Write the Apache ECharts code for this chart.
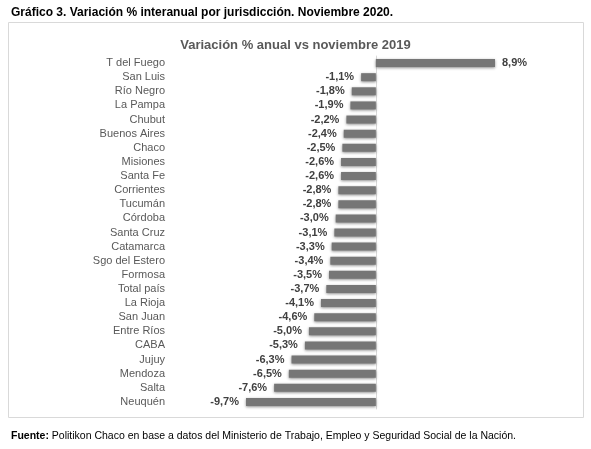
<!DOCTYPE html>
<html>
<head>
<meta charset="utf-8">
<script src="https://cdn.jsdelivr.net/npm/echarts@6/dist/echarts.min.js"></script>
<style>
  html, body { margin: 0; padding: 0; background: #fff; }
  #chart { width: 591px; height: 449px; }
</style>
</head>
<body>
<div id="chart"></div>
<script>
// jurisdicciones
var provincias = ['T del Fuego', 'San Luis', 'Río Negro', 'La Pampa', 'Chubut', 'Buenos Aires', 'Chaco', 'Misiones', 'Santa Fe', 'Corrientes', 'Tucumán', 'Córdoba', 'Santa Cruz', 'Catamarca', 'Sgo del Estero', 'Formosa', 'Total país', 'La Rioja', 'San Juan', 'Entre Ríos', 'CABA', 'Jujuy', 'Mendoza', 'Salta', 'Neuquén'];
// variación % anual
var variacion = [8.9, -1.1, -1.8, -1.9, -2.2, -2.4, -2.5, -2.6, -2.6, -2.8, -2.8, -3.0, -3.1, -3.3, -3.4, -3.5, -3.7, -4.1, -4.6, -5.0, -5.3, -6.3, -6.5, -7.6, -9.7];

// etiquetas de negativos a la izquierda de la barra
var datosBarras = variacion.map(function (v) {
  return { value: v, label: { position: v < 0 ? 'left' : 'right' } };
});

var chart = echarts.init(document.getElementById('chart'));
var option = {
  animation: false,
  textStyle: { fontFamily: 'Liberation Sans, Arial, sans-serif' },
  title: [
    {
      text: 'Gráfico 3. Variación % interanual por jurisdicción. Noviembre 2020.',
      left: 6, top: 2,
      textStyle: { fontSize: 12, fontWeight: 'bold', color: '#000' }
    },
    {
      text: 'Variación % anual vs noviembre 2019',
      left: 'center', top: 34,
      textStyle: { fontSize: 13, fontWeight: 'bold', color: '#595959' }
    },
    {
      text: '{b|Fuente:} Politikon Chaco en base a datos del Ministerio de Trabajo, Empleo y Seguridad Social de la Nación.',
      left: 6, top: 426,
      textStyle: {
        fontSize: 10.5, fontWeight: 'normal', color: '#000',
        rich: { b: { fontWeight: 'bold', fontSize: 10.5, color: '#000' } }
      }
    }
  ],
  // recuadro del gráfico
  graphic: [{
    type: 'rect',
    shape: { x: 8.5, y: 22.5, width: 575, height: 395 },
    style: { fill: 'none', stroke: '#d9d9d9', lineWidth: 1 },
    z: -1
  }],
  grid: { left: 246, right: 96, top: 56, bottom: 40 },
  xAxis: {
    type: 'value',
    min: -9.7,
    max: 8.9,
    show: false
  },
  yAxis: {
    type: 'category',
    data: provincias,
    inverse: true,
    axisLine: { show: true, onZero: true, lineStyle: { color: '#d9d9d9' } },
    axisTick: { show: false },
    axisLabel: {
      interval: 0,
      margin: 81,
      fontSize: 11,
      color: '#595959'
    }
  },
  series: [{
    type: 'bar',
    data: datosBarras,
    barWidth: 8,
    itemStyle: {
      color: '#767676',
      shadowColor: 'rgba(0,0,0,0.45)',
      shadowBlur: 3,
      shadowOffsetY: 1
    },
    label: {
      show: true,
      distance: 7,
      fontSize: 11,
      fontWeight: 'bold',
      color: '#404040',
      formatter: function (p) {
        return p.value.toFixed(1).replace('.', ',') + '%';
      }
    }
  }]
};
chart.setOption(option);
</script>
</body>
</html>
